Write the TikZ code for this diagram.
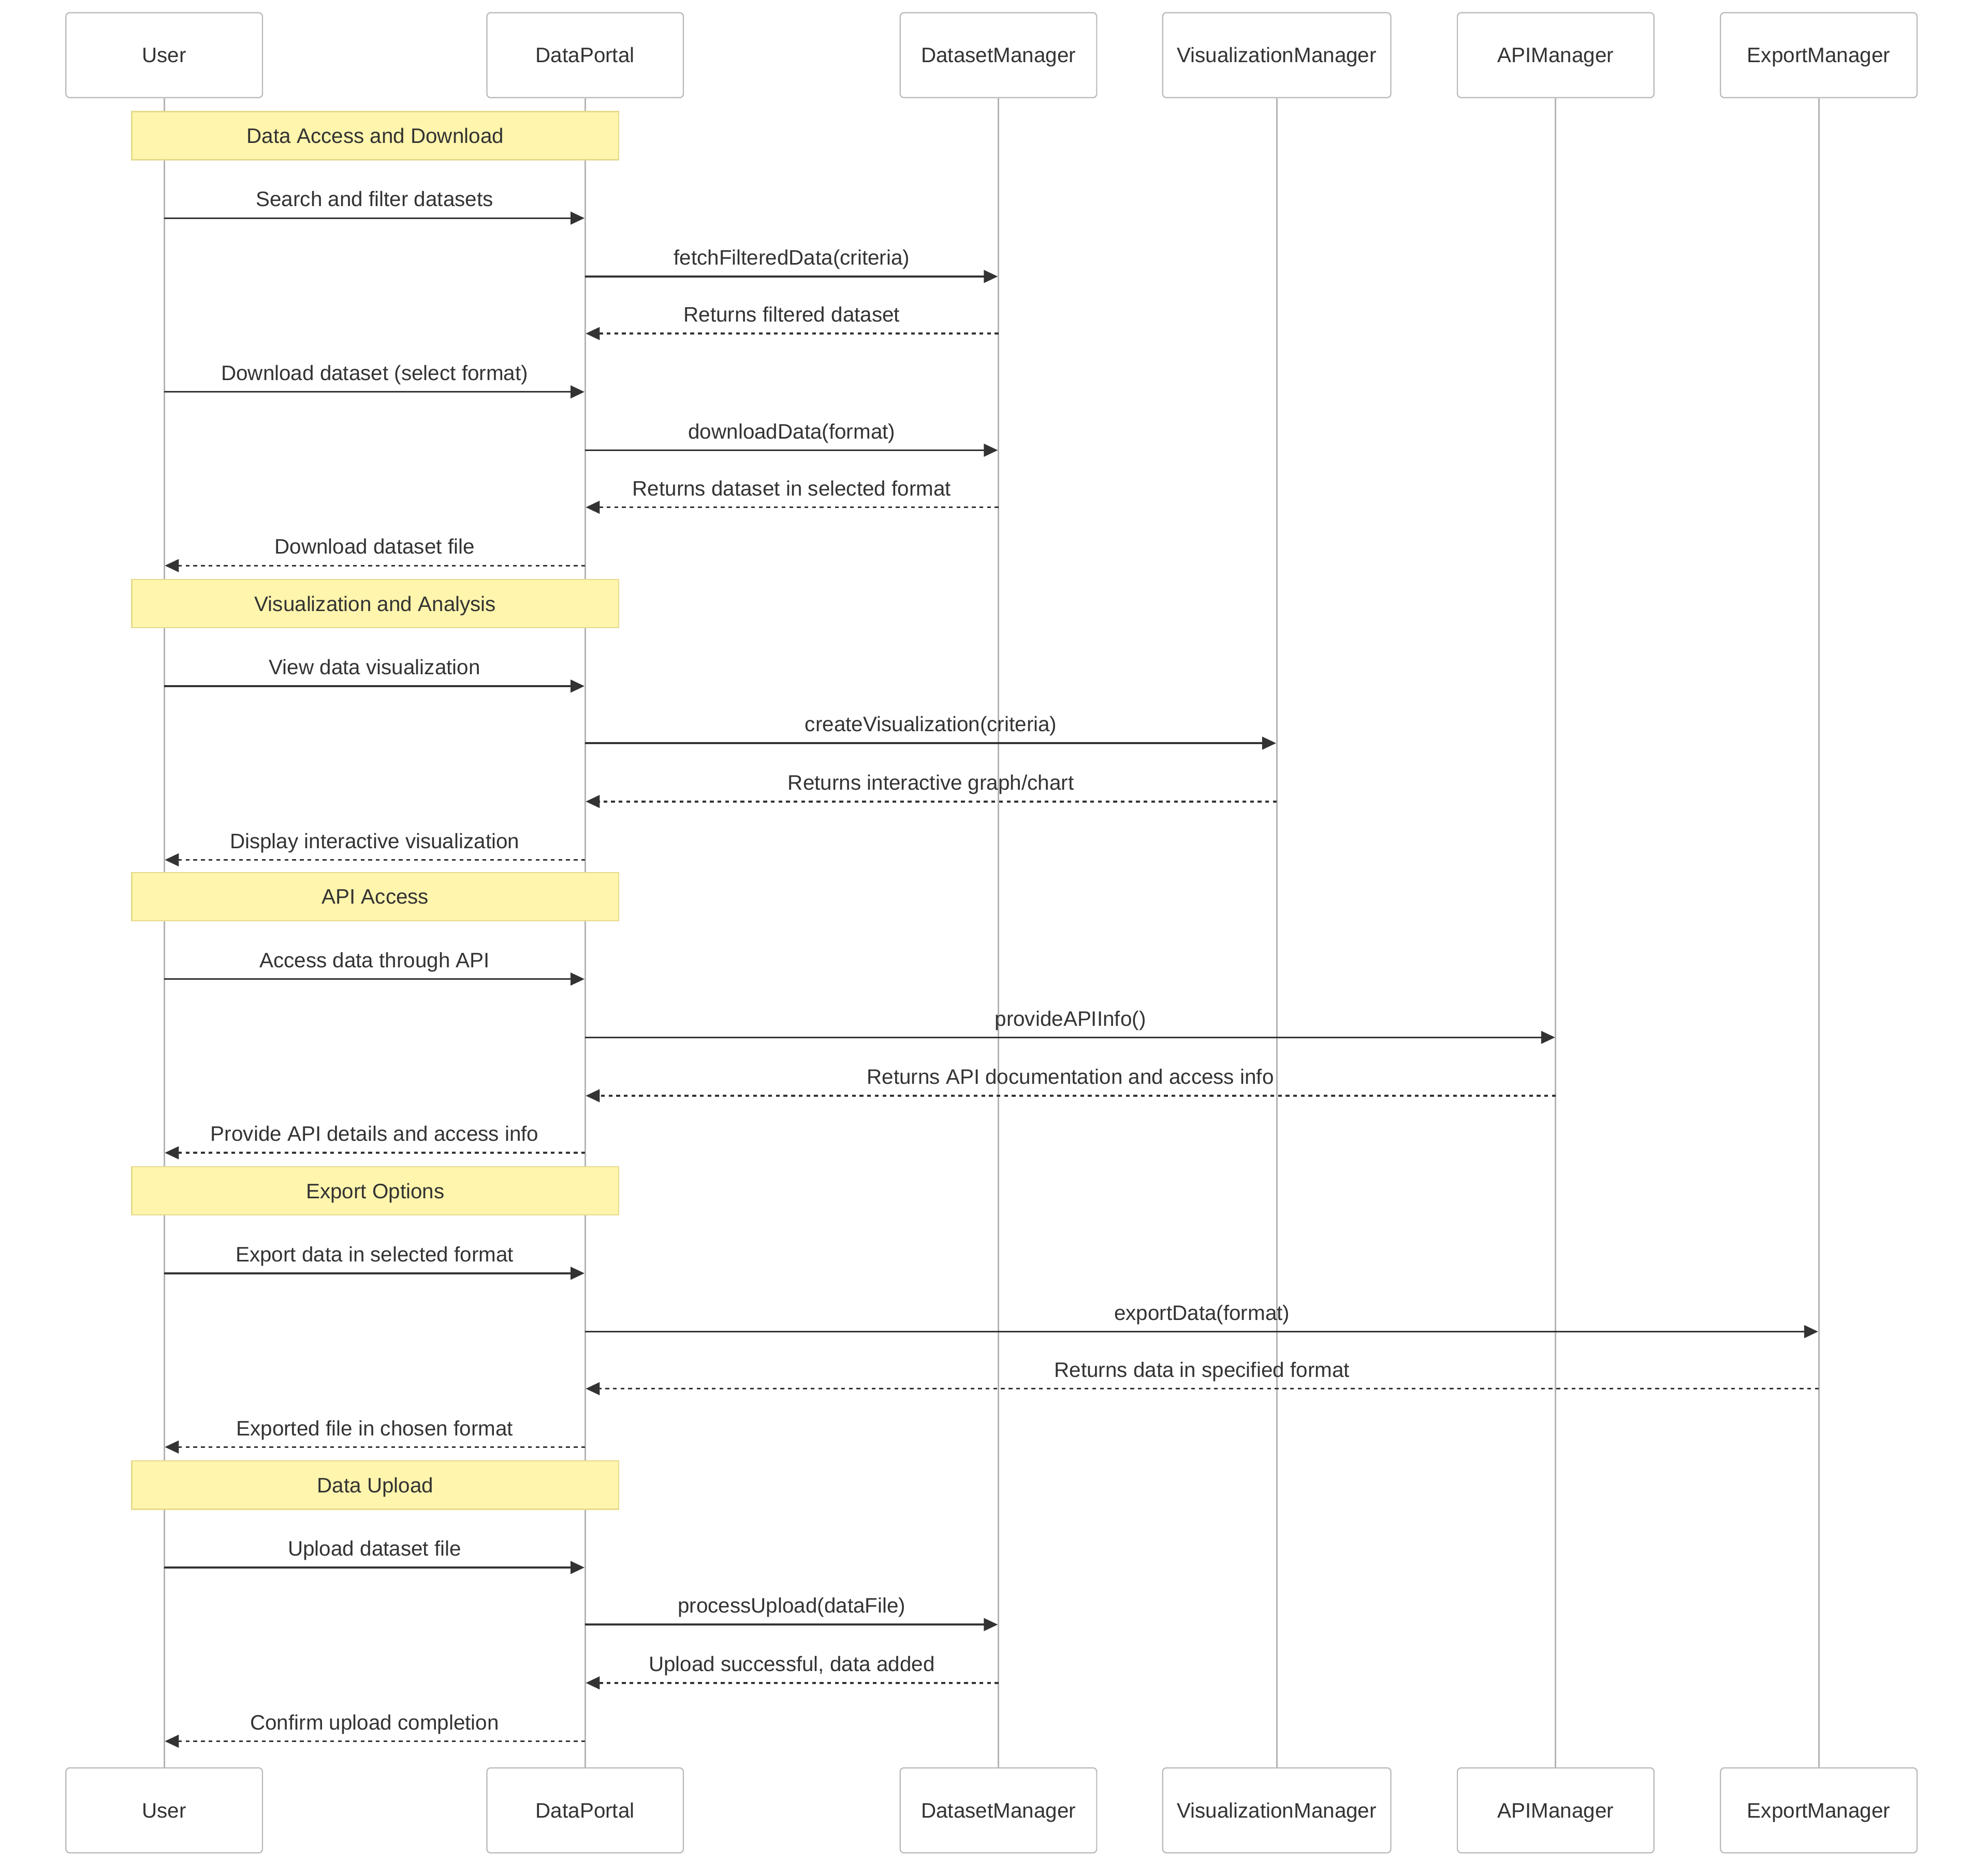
\documentclass[tikz,border=0pt]{standalone}
\usepackage{fontspec}
\setmainfont{Liberation Sans}
\usetikzlibrary{arrows.meta}
\definecolor{ink}{HTML}{333333}
\definecolor{actorline}{HTML}{B8B8B8}
\definecolor{lifegray}{HTML}{B3B3B3}
\definecolor{notefill}{HTML}{FFF5AD}
\definecolor{noteline}{HTML}{E6DA8C}
\tikzset{
  txt/.style={font=\fontsize{16.5pt}{19pt}\selectfont, text=ink, text height=11.8pt, text depth=0pt, inner sep=0pt},
  actor/.style={txt, draw=actorline, fill=white, line width=0.9pt, rounded corners=3pt, minimum width=155pt, minimum height=67pt},
  wideactor/.style={actor, minimum width=180pt},
  lifeline/.style={draw=lifegray, line width=1.2pt},
  notebox/.style={txt, draw=noteline, fill=notefill, line width=1pt, minimum width=384pt, minimum height=38pt},
  msg/.style={draw=ink, line width=1.4pt, -{Triangle[length=11pt,width=10pt]}, shorten >=0.5pt},
  ret/.style={msg, dash pattern=on 3pt off 3pt},
  lbl/.style={txt, yshift=15pt}
}
\begin{document}
\begin{tikzpicture} [x=1pt, y=-1pt]
\useasboundingbox (0,0) rectangle (1568,1476);

\node [actor] (U) at (129.5,43.5) {User};
\node [actor] (P) at (461.5,43.5) {DataPortal};
\node [actor] (D) at (787.5,43.5) {DatasetManager};
\node [wideactor] (V) at (1007,43.5) {VisualizationManager};
\node [actor] (A) at (1227,43.5) {APIManager};
\node [actor] (E) at (1434.5,43.5) {ExportManager};

\node [actor] (Ub) at (129.5,1427.5) {User};
\node [actor] (Pb) at (461.5,1427.5) {DataPortal};
\node [actor] (Db) at (787.5,1427.5) {DatasetManager};
\node [wideactor] (Vb) at (1007,1427.5) {VisualizationManager};
\node [actor] (Ab) at (1227,1427.5) {APIManager};
\node [actor] (Eb) at (1434.5,1427.5) {ExportManager};

\draw [lifeline] (U.south) -- (Ub.north);
\draw [lifeline] (P.south) -- (Pb.north);
\draw [lifeline] (D.south) -- (Db.north);
\draw [lifeline] (V.south) -- (Vb.north);
\draw [lifeline] (A.south) -- (Ab.north);
\draw [lifeline] (E.south) -- (Eb.north);

\node [notebox] (n1) at (296,107) {Data Access and Download};
\node [notebox] (n2) at (296,476) {Visualization and Analysis};
\node [notebox] (n3) at (296,707) {API Access};
\node [notebox] (n4) at (296,939) {Export Options};
\node [notebox] (n5) at (296,1171) {Data Upload};

\draw [msg] (U |- 0,172) -- (P |- 0,172) node [midway, lbl] {Search and filter datasets};
\draw [msg] (P |- 0,218) -- (D |- 0,218) node [midway, lbl] {fetchFilteredData(criteria)};
\draw [ret] (D |- 0,263) -- (P |- 0,263) node [midway, lbl] {Returns filtered dataset};
\draw [msg] (U |- 0,309) -- (P |- 0,309) node [midway, lbl] {Download dataset (select format)};
\draw [msg] (P |- 0,355) -- (D |- 0,355) node [midway, lbl] {downloadData(format)};
\draw [ret] (D |- 0,400) -- (P |- 0,400) node [midway, lbl] {Returns dataset in selected format};
\draw [ret] (P |- 0,446) -- (U |- 0,446) node [midway, lbl] {Download dataset file};

\draw [msg] (U |- 0,541) -- (P |- 0,541) node [midway, lbl] {View data visualization};
\draw [msg] (P |- 0,586) -- (V |- 0,586) node [midway, lbl] {createVisualization(criteria)};
\draw [ret] (V |- 0,632) -- (P |- 0,632) node [midway, lbl] {Returns interactive graph/chart};
\draw [ret] (P |- 0,678) -- (U |- 0,678) node [midway, lbl] {Display interactive visualization};

\draw [msg] (U |- 0,772) -- (P |- 0,772) node [midway, lbl] {Access data through API};
\draw [msg] (P |- 0,818) -- (A |- 0,818) node [midway, lbl] {provideAPIInfo()};
\draw [ret] (A |- 0,864) -- (P |- 0,864) node [midway, lbl] {Returns API documentation and access info};
\draw [ret] (P |- 0,909) -- (U |- 0,909) node [midway, lbl] {Provide API details and access info};

\draw [msg] (U |- 0,1004) -- (P |- 0,1004) node [midway, lbl] {Export data in selected format};
\draw [msg] (P |- 0,1050) -- (E |- 0,1050) node [midway, lbl] {exportData(format)};
\draw [ret] (E |- 0,1095) -- (P |- 0,1095) node [midway, lbl] {Returns data in specified format};
\draw [ret] (P |- 0,1141) -- (U |- 0,1141) node [midway, lbl] {Exported file in chosen format};

\draw [msg] (U |- 0,1236) -- (P |- 0,1236) node [midway, lbl] {Upload dataset file};
\draw [msg] (P |- 0,1281) -- (D |- 0,1281) node [midway, lbl] {processUpload(dataFile)};
\draw [ret] (D |- 0,1327) -- (P |- 0,1327) node [midway, lbl] {Upload successful, data added};
\draw [ret] (P |- 0,1373) -- (U |- 0,1373) node [midway, lbl] {Confirm upload completion};
\end{tikzpicture}
\end{document}
